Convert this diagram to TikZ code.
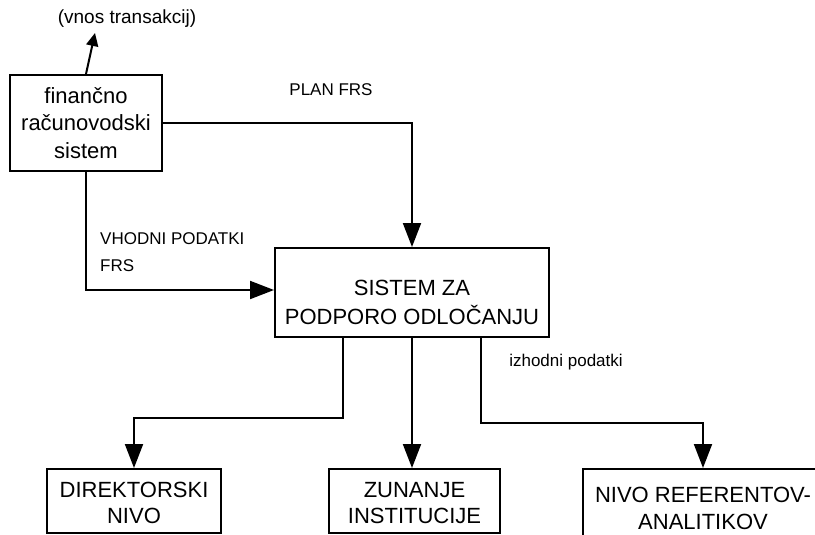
\documentclass[tikz,border=0pt]{standalone}
\usepackage{fontspec}
\setmainfont{Liberation Sans}
\usetikzlibrary{arrows.meta}
\begin{document}
\begin{tikzpicture}[x=1pt,y=-1pt,
  box/.style={draw, line width=2pt, inner sep=0pt, align=center},
  flow/.style={line width=2pt, -{Triangle[length=24pt,width=18pt]}},
  lbl/.style={font=\fontsize{17}{27}\selectfont, align=left, inner sep=0pt},
  big/.style={font=\fontsize{22}{26}\selectfont}]
\clip (0,0) rectangle (815,535);
\fill[white] (0,0) rectangle (815,535);

% boxes
\node[box, big, font=\fontsize{22}{27.5}\selectfont, minimum width=152pt, minimum height=96pt] (frs) at (86,123) {finančno\\računovodski\\sistem};
\node[box, minimum width=274pt, minimum height=89pt] (szpo) at (412,292.5) {};
\node[inner sep=0pt, align=center, font=\fontsize{22}{29}\selectfont] (szpotxt) at (412,302) {SISTEM ZA\\PODPORO ODLOČANJU};
\node[box, minimum width=174pt, minimum height=64pt] (dir) at (134,501) {};
\node[inner sep=0pt, align=center, big] (dirtxt) at (134,503) {DIREKTORSKI\\NIVO};
\node[box, minimum width=171pt, minimum height=64pt] (zun) at (414.5,501) {};
\node[inner sep=0pt, align=center, big] (zuntxt) at (414.5,503) {ZUNANJE\\INSTITUCIJE};
\node[box, minimum width=240pt, minimum height=80pt] (niv) at (703,509) {};
\node[inner sep=0pt, align=center, big, font=\fontsize{22}{27}\selectfont] (nivtxt) at (703,508.5) {NIVO REFERENTOV-\\ANALITIKOV};

% input of transactions
\coordinate (vnos) at (95,33);
\draw[line width=2pt, -{Triangle[length=13pt,width=12pt]}] (frs.north) -- (vnos);
\node[inner sep=0pt, font=\fontsize{19}{22}\selectfont] (vnostxt) at (127,19) {(vnos transakcij)};

% flows into the decision support system
\draw[flow] (frs.east) -| (szpo.north);
\node[lbl] (plan) at (331,90) {PLAN FRS};
\draw[flow] (frs.south) |- ([yshift=2.5pt]szpo.west);
\node[lbl, anchor=west] (vhod) at (100,252.5) {VHODNI PODATKI\\FRS};

% outputs
\coordinate (k1) at (134,418);
\coordinate (k3) at (703,423);
\draw[flow] ([xshift=-69pt]szpo.south) |- (k1) -- (dir.north);
\draw[flow] (szpo.south) -- (szpo.south |- zun.north);
\draw[flow] ([xshift=69pt]szpo.south) |- (k3) -- (niv.north);
\node[lbl] (izhod) at (566,362) {izhodni podatki};
\end{tikzpicture}
\end{document}
